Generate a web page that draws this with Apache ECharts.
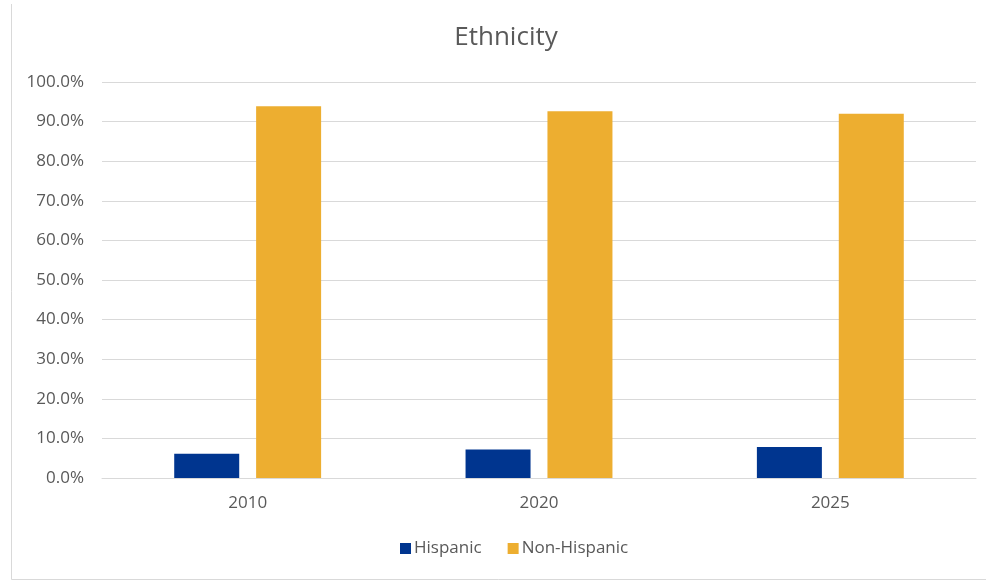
<!DOCTYPE html>
<html>
<head>
<meta charset="utf-8">
<script src="https://cdn.jsdelivr.net/npm/echarts@6/dist/echarts.min.js"></script>
<style>
  html, body { margin: 0; padding: 0; background: #fff; }
  #chart { width: 986px; height: 581px; }
</style>
</head>
<body>
<div id="chart"></div>
<script>
// Share of population by ethnicity (percent)
const years = ['2010', '2020', '2025'];
const hispanic = [6.1, 7.2, 7.8];
const nonHispanic = [93.9, 92.6, 92.0];
const seriesNames = ['Hispanic', 'Non-Hispanic'];
const chartTitle = 'Ethnicity';

const FONT = '"Open Sans", "Noto Sans", sans-serif';
const TEXT = '#595959';

const chart = echarts.init(document.getElementById('chart'), null, { renderer: 'canvas' });

chart.setOption({
  backgroundColor: '#ffffff',
  animation: false,
  legend: {
    bottom: 19,
    left: 395,
    itemWidth: 11,
    itemHeight: 11,
    itemGap: 26,
    icon: 'rect',
    textStyle: { fontFamily: FONT, fontSize: 17, color: TEXT, padding: [0, 0, 0, -2] },
    data: seriesNames
  },
  grid: { left: 102, right: 10, top: 82, bottom: 103 },
  xAxis: {
    type: 'category',
    data: years,
    axisLine: { show: true, lineStyle: { color: '#d9d9d9', width: 1 } },
    axisTick: { show: false },
    axisLabel: { fontFamily: FONT, fontSize: 17, color: TEXT, margin: 17 }
  },
  yAxis: {
    type: 'value',
    min: 0,
    max: 100,
    interval: 10,
    axisLine: { show: false },
    axisTick: { show: false },
    splitLine: { lineStyle: { color: '#d9d9d9', width: 1 } },
    axisLabel: {
      fontFamily: FONT, fontSize: 17, color: TEXT, margin: 18,
      formatter: v => v.toFixed(1) + '%'
    }
  },
  series: [
    {
      name: seriesNames[0],
      type: 'bar',
      data: hispanic,
      barWidth: 65,
      barGap: '26%',
      itemStyle: { color: '#00358f' }
    },
    {
      name: seriesNames[1],
      type: 'bar',
      data: nonHispanic,
      barWidth: 65,
      barGap: '26%',
      itemStyle: { color: '#edae30' }
    }
  ],
  graphic: [
    {
      // chart title, centred on the full chart frame
      type: 'text',
      silent: true,
      x: 506,
      y: 38,
      style: {
        text: chartTitle,
        align: 'center',
        verticalAlign: 'middle',
        fontFamily: FONT,
        fontSize: 26,
        fill: TEXT
      }
    },
    {
      type: 'polyline',
      silent: true,
      shape: { points: [[11.5, 4], [11.5, 579.5], [986, 579.5]] },
      style: { stroke: '#d9d9d9', lineWidth: 1, fill: null }
    }
  ]
});
</script>
</body>
</html>
